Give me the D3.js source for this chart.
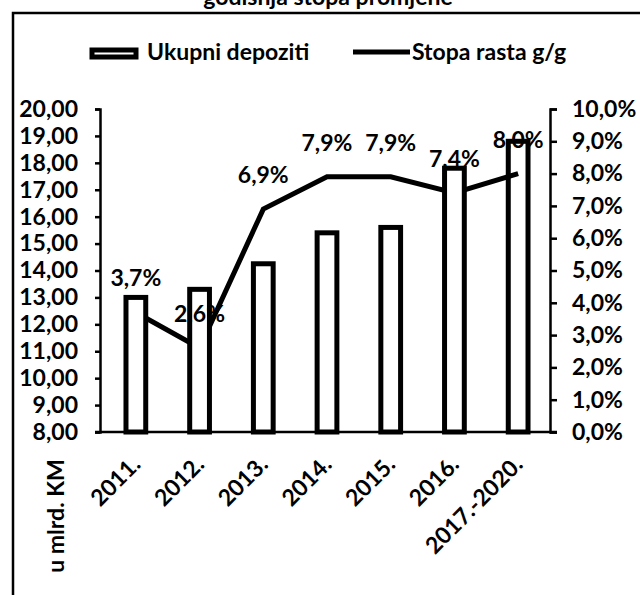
<!DOCTYPE html>
<html lang="hr">
<head>
<meta charset="UTF-8">
<title>Ukupni depoziti</title>
<script src="https://d3js.org/d3.v7.min.js"></script>
<style>
  body { margin: 0; background: #fff; }
  text { font-family: Lato, "Open Sans", sans-serif; font-weight: bold; fill: #000; }
  .axis path, .axis line { stroke: #000; stroke-width: 2.5px; }
  .axis text { font-size: 23px; }
</style>
</head>
<body>
<div id="chart"></div>
<script>
// podaci
var godine = ["2011.", "2012.", "2013.", "2014.", "2015.", "2016.", "2017.-2020."];
var depoziti = [13.0, 13.3, 14.25, 15.4, 15.6, 17.8, 18.8];   // u mlrd. KM
var stopaRasta = [0.037, 0.026, 0.069, 0.079, 0.079, 0.074, 0.080];
var lijeviTicks = [8, 9, 10, 11, 12, 13, 14, 15, 16, 17, 18, 19, 20];
var desniTicks = [0, 0.01, 0.02, 0.03, 0.04, 0.05, 0.06, 0.07, 0.08, 0.09, 0.10];

var W = 640, H = 595;
var m = { top: 109, bottom: 432, left: 104, right: 550 };

var loc = d3.formatLocale({ decimal: ",", thousands: ".", grouping: [3], currency: ["", ""] });
var fmtL = loc.format(".2f"), fmtR = loc.format(".1%");

var svg = d3.select("#chart").append("svg")
    .attr("width", W).attr("height", H);

// okvir i naslov (odsječen na vrhu)
svg.append("text")
    .attr("x", 328).attr("y", 5)
    .attr("text-anchor", "middle")
    .style("font-size", "23px")
    .text("godišnja stopa promjene");
svg.append("path")
    .attr("d", "M13,595 V13 H640")
    .attr("fill", "none").attr("stroke", "#000").attr("stroke-width", 2.5);

var x = d3.scaleBand().domain(godine).range([m.left, m.right])
    .paddingInner(0.69).paddingOuter(0.345);
var yL = d3.scaleLinear().domain([8, 20]).range([m.bottom, m.top]);
var yR = d3.scaleLinear().domain([0, 0.10]).range([m.bottom, m.top]);
var cx = function (d) { return x(d) + x.bandwidth() / 2; };

// linija stope rasta (ispod stupaca)
var line = d3.line()
    .x(function (d, i) { return cx(godine[i]); })
    .y(function (d) { return yR(d); });
svg.append("path")
    .datum(stopaRasta)
    .attr("d", line)
    .attr("fill", "none").attr("stroke", "#000").attr("stroke-width", 5);

// stupci
svg.selectAll(".bar")
    .data(depoziti)
    .enter().append("rect")
    .attr("class", "bar")
    .attr("x", function (d, i) { return x(godine[i]); })
    .attr("y", function (d) { return yL(d); })
    .attr("width", x.bandwidth())
    .attr("height", function (d) { return m.bottom - yL(d); })
    .attr("fill", function (d, i) { return i === godine.length - 1 ? "none" : "#fff"; })
    .attr("stroke", "#000").attr("stroke-width", 5);

// oznake podataka
svg.selectAll(".lbl")
    .data(stopaRasta)
    .enter().append("text")
    .attr("class", "lbl")
    .attr("x", function (d, i) { return cx(godine[i]); })
    .attr("y", function (d) { return yR(d) - 26; })
    .attr("text-anchor", "middle")
    .style("font-size", "23px")
    .text(function (d) { return fmtR(d); });

// osi
svg.append("g").attr("class", "axis")
    .attr("transform", "translate(" + (m.left - 4) + ",0)")
    .call(d3.axisLeft(yL).tickValues(lijeviTicks).tickFormat(fmtL).tickSize(5).tickSizeOuter(5).tickPadding(17));

svg.append("g").attr("class", "axis")
    .attr("transform", "translate(" + m.right + ",0)")
    .call(d3.axisRight(yR).tickValues(desniTicks).tickFormat(fmtR).tickSize(7).tickSizeOuter(7).tickPadding(15))
    .selectAll("text").attr("text-anchor", "start");

var xAxis = svg.append("g").attr("class", "axis")
    .attr("transform", "translate(0," + m.bottom + ")")
    .call(d3.axisBottom(x).tickSize(0).tickSizeOuter(0));
xAxis.select(".domain").attr("d", "M" + (m.left - 9) + ",0H" + (m.right + 7));
xAxis.selectAll("text")
    .attr("text-anchor", "end")
    .attr("dy", 0)
    .attr("y", 0)
    .attr("transform", "translate(6,34) rotate(-45)");

// naslov osi
svg.append("text")
    .attr("transform", "translate(64,516) rotate(-90)")
    .attr("text-anchor", "middle")
    .style("font-size", "23px")
    .text("u mlrd. KM");

// legenda
svg.append("rect")
    .attr("x", 92).attr("y", 50).attr("width", 44).attr("height", 7)
    .attr("fill", "#fff").attr("stroke", "#000").attr("stroke-width", 5);
svg.append("text").attr("x", 147).attr("y", 60)
    .style("font-size", "23px").text("Ukupni depoziti");
svg.append("line")
    .attr("x1", 353).attr("x2", 410).attr("y1", 52).attr("y2", 52)
    .attr("stroke", "#000").attr("stroke-width", 5);
svg.append("text").attr("x", 412).attr("y", 60)
    .style("font-size", "23px").text("Stopa rasta g/g");
</script>
</body>
</html>
